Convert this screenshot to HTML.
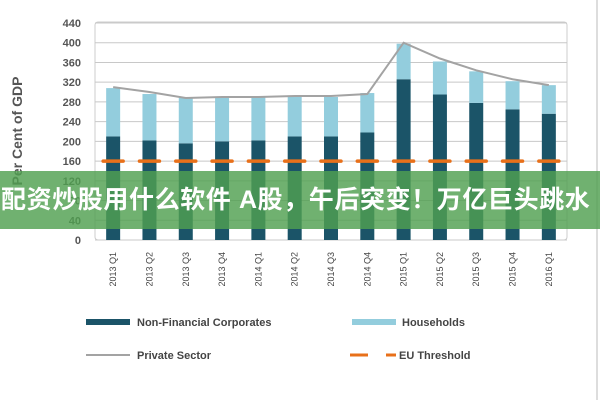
<!DOCTYPE html>
<html><head><meta charset="utf-8"><style>
body{margin:0;width:600px;height:400px;background:#fff;overflow:hidden;font-family:"Liberation Sans","Noto Sans CJK SC",sans-serif}
#band{position:absolute;left:0;top:171px;width:600px;height:58px;background:rgba(80,160,80,0.82);color:#fff;font-size:25px;font-weight:bold;line-height:58px;white-space:nowrap;letter-spacing:0.6px;padding-left:1px}
</style></head><body>
<svg id="chart" width="600" height="400" style="position:absolute;left:0;top:0"></svg>
<div id="band">配资炒股用什么软件 A股，午后突变！万亿巨头跳水</div>
<script>
const categories=["2013 Q1","2013 Q2","2013 Q3","2013 Q4","2014 Q1","2014 Q2","2014 Q3","2014 Q4","2015 Q1","2015 Q2","2015 Q3","2015 Q4","2016 Q1"];
const nfc=[210,202,196,200,202,210,210,218,326,295,278,265,256];
const households=[98,94,92,90,88,82,80,80,72,67,64,57,58];
const privateSector=[310,300,288,290,290,292,292,296,400,368,344,326,314];
const threshold=[160,160,160,160,160,160,160,160,160,160,160,160,160];
const yTicks=[0,40,80,120,160,200,240,280,320,360,400,440];

const svg=document.getElementById('chart');
const NS='http://www.w3.org/2000/svg';
const L=95,R=567,T=23,B=240,yMax=440;
const step=(R-L)/categories.length;
const x=i=>L+step*(i+0.5);
const y=v=>B-(v/yMax)*(B-T);
function mk(tag,attrs,parent){const e=document.createElementNS(NS,tag);for(const k in attrs)e.setAttribute(k,attrs[k]);(parent||svg).appendChild(e);return e;}

const frame=mk('rect',{x:L,y:T-1,width:R-L,height:B-T+1,fill:'none',stroke:'#ccc','stroke-width':1,rx:3});


yTicks.forEach(t=>{
  const g=mk('line',{x1:L,x2:R,y1:y(t),y2:y(t),stroke:'#c8c8c8','stroke-width':1});
  
  
  const tx=mk('text',{x:L-14,y:y(t)+4,'text-anchor':'end','font-size':11,'font-weight':'bold',fill:'#555'});
  tx.textContent=t;
  
  
});
const yt=mk('text',{x:22,y:131,'text-anchor':'middle','font-size':14,'font-weight':'bold',fill:'#555',transform:'rotate(-90 22 131)'});
yt.textContent='Per Cent of GDP';



const bw=14;
categories.forEach((c,i)=>{
  const b1=mk('rect',{x:x(i)-bw/2,y:y(nfc[i]),width:bw,height:B-y(nfc[i]),fill:'#1b5468'});
  
  
  const top=nfc[i]+households[i];
  const b2=mk('rect',{x:x(i)-bw/2,y:y(top),width:bw,height:y(nfc[i])-y(top),fill:'#93cddd'});
  
  
  const th=mk('line',{x1:x(i)-10,x2:x(i)+10,y1:y(threshold[i]),y2:y(threshold[i]),stroke:'#e8701a','stroke-width':3.5,'stroke-linecap':'round'});
  
  
  const lx=x(i)+3,ly=252;
  const lb=mk('text',{x:lx,y:ly,'text-anchor':'end','font-size':9,fill:'#444',transform:`rotate(-90 ${lx} ${ly})`});
  lb.textContent=c;
  
  
});
const pl=mk('polyline',{points:privateSector.map((v,i)=>x(i)+','+y(v)).join(' '),fill:'none',stroke:'#a3a3a3','stroke-width':2});



function legText(tx,ty,s,name){const t=mk('text',{x:tx,y:ty,'font-size':11,'font-weight':'bold',fill:'#444'});t.textContent=s;}
const s1=mk('rect',{x:86,y:319,width:44,height:6,fill:'#1b5468'});


legText(137,326,'Non-Financial Corporates','legend-label-nfc');
const s2=mk('rect',{x:352,y:319,width:44,height:6,fill:'#93cddd'});


legText(402,326,'Households','legend-label-households');
const s3=mk('line',{x1:86,x2:130,y1:355,y2:355,stroke:'#a3a3a3','stroke-width':2});


legText(137,359,'Private Sector','legend-label-private');
const s4=mk('line',{x1:350,x2:396,y1:355,y2:355,stroke:'#e8701a','stroke-width':3,'stroke-dasharray':'18 18'});


legText(399,359,'EU Threshold','legend-label-eu');
const edge=mk('line',{x1:597,x2:597,y1:0,y2:400,stroke:'#ddd','stroke-width':2});


</script>
</body></html>
